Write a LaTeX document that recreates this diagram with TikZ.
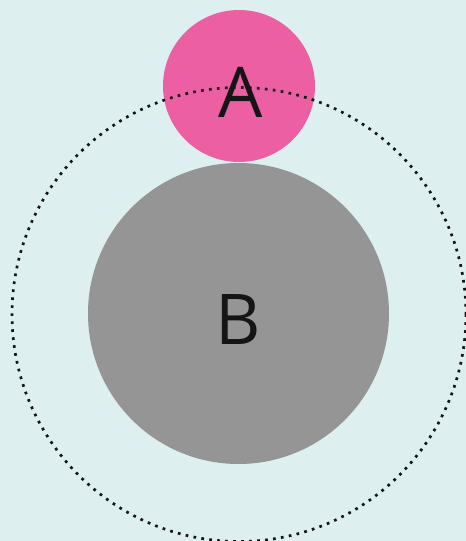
\documentclass[tikz,border=0pt]{standalone}
\usepackage{fontspec}
\setmainfont{Open Sans}
\usetikzlibrary{positioning}
\definecolor{setbg}{HTML}{DDF0EF}
\definecolor{setpink}{HTML}{ED5FA3}
\definecolor{setgray}{HTML}{959595}
\definecolor{setink}{HTML}{151515}

\begin{document}
\begin{tikzpicture}[x=1pt, y=-1pt,
  setdisc/.style={circle, inner sep=0pt, outer sep=0pt},
  setlabel/.style={font=\fontsize{70}{70}\selectfont, text=setink, inner sep=0pt}]
  \fill[setbg] (0,0) rectangle (466,541);
  \useasboundingbox (0,0) rectangle (466,541);
  \node[setdisc, fill=setgray, minimum size=301pt] (setB) at (238.5,313.5) {};
  \node[setdisc, fill=setpink, minimum size=152pt] (setA) at (239,86) {};
  \node[setlabel] (labA) at (241,92) {A};
  \node[setlabel] (labB) at (238,320) {B};
  \node[setdisc, draw=setink, line width=2.7pt, dash pattern=on 2.7pt off 5.3pt, minimum size=454pt] (universe) at (239,314.5) {};
\end{tikzpicture}
\end{document}
